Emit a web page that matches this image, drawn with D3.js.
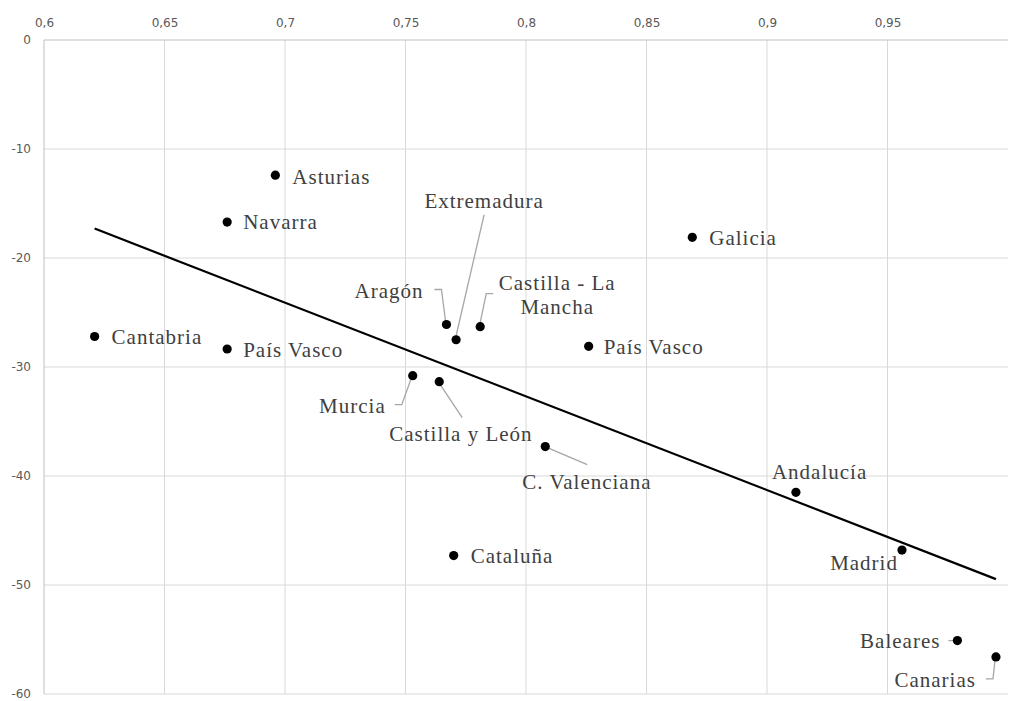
<html>
  <head>
    <meta charset="UTF-8">
    <title>Dispersión por comunidades</title>
    <style type="text/css">
      body { margin: 0; background-color: #fff; }
      .grid line { stroke: #d9d9d9; stroke-width: 1px; }
      .axisLine { stroke: #bfbfbf; stroke-width: 1px; }
      .tick text { fill: #595959; font-family: "DejaVu Sans", sans-serif; font-size: 12px; }
      .label { fill: #404040; font-family: "Liberation Serif", serif; font-size: 21px; letter-spacing: 1px; }
      .leader { stroke: #a6a6a6; stroke-width: 1.3px; fill: none; }
    </style>
    <script src="https://cdn.jsdelivr.net/npm/d3@7"></script>
  </head>
  <body>
    <div id="chart"></div>
    <script type="text/javascript">

      // data
      var regions = ["Asturias", "Navarra", "Galicia", "Cantabria", "País Vasco", "Aragón", "Extremadura",
                     "Castilla - La Mancha", "País Vasco", "Murcia", "Castilla y León", "C. Valenciana",
                     "Cataluña", "Andalucía", "Madrid", "Baleares", "Canarias"];
      var xValues = [0.696, 0.676, 0.869, 0.621, 0.676, 0.767, 0.771, 0.781, 0.826, 0.753, 0.764, 0.808,
                     0.770, 0.912, 0.956, 0.979, 0.995];
      var yValues = [-12.4, -16.7, -18.1, -27.2, -28.35, -26.1, -27.5, -26.3, -28.1, -30.8, -31.35, -37.3,
                     -47.3, -41.5, -46.8, -55.1, -56.6];
      var xTicks = [0.6, 0.65, 0.7, 0.75, 0.8, 0.85, 0.9, 0.95];
      var yTicks = [0, -10, -20, -30, -40, -50, -60];

      // label layout (pixel offsets from each dot, and leader lines)
      var labelLayout = [
        { dx: 17, dy: 1, anchor: "start" },
        { dx: 16, dy: 0, anchor: "start" },
        { dx: 17, dy: 0, anchor: "start" },
        { dx: 17, dy: 0, anchor: "start" },
        { dx: 16, dy: 1, anchor: "start" },
        { dx: -23, dy: -34, anchor: "end", leader: [[-12, -35], [-5, -35], [-1, -4]] },
        { dx: 28, dy: -139, anchor: "middle", leader: [[28, -125], [0, -4]] },
        { dx: 77, dy: -44, anchor: "middle", lines: ["Castilla - La", "Mancha"], leader: [[13, -33], [6, -33], [0, -4]] },
        { dx: 15, dy: 0, anchor: "start" },
        { dx: -27, dy: 30, anchor: "end", leader: [[-18, 29], [-11, 29], [-2, 4]] },
        { dx: -50, dy: 52, anchor: "start", leader: [[1, 3], [23, 36]] },
        { dx: -23, dy: 35, anchor: "start", leader: [[2, 1], [42, 18]] },
        { dx: 17, dy: 0, anchor: "start" },
        { dx: -24, dy: -21, anchor: "start" },
        { dx: -4, dy: 13, anchor: "end" },
        { dx: -17, dy: 0, anchor: "end", leader: [[-9, 0], [-3, 0]] },
        { dx: -20, dy: 23, anchor: "end", leader: [[-10, 22], [-3, 22], [-1, 4]] }
      ];

      var width = 1009, height = 701;
      var marginLeft = 44, marginTop = 40;

      var svg = d3.select("#chart").append("svg")
        .attr("width", width).attr("height", height);

      var xScale = d3.scaleLinear().domain([0.6, 1.0]).range([marginLeft, 1008]);
      var yScale = d3.scaleLinear().domain([0, -60]).range([marginTop, 694]);

      // grid
      var grid = svg.append("g").attr("class", "grid");
      grid.selectAll(".v").data(xTicks.slice(1)).enter().append("line")
        .attr("x1", function(d) { return xScale(d); }).attr("x2", function(d) { return xScale(d); })
        .attr("y1", yScale(0)).attr("y2", yScale(-60));
      grid.selectAll(".h").data(yTicks.slice(1)).enter().append("line")
        .attr("x1", xScale(0.6)).attr("x2", xScale(1.0))
        .attr("y1", function(d) { return yScale(d); }).attr("y2", function(d) { return yScale(d); });

      // axes on top and left
      var fmt = function(d) { return String(d).replace(".", ","); };
      var xAxisG = svg.append("g").attr("transform", "translate(0," + marginTop + ")")
        .call(d3.axisTop(xScale).tickValues(xTicks).tickFormat(fmt).tickSize(0).tickPadding(13));
      var yAxisG = svg.append("g").attr("transform", "translate(" + marginLeft + ",0)")
        .call(d3.axisLeft(yScale).tickValues(yTicks).tickFormat(fmt).tickSize(0).tickPadding(13));
      xAxisG.select(".domain").remove();
      yAxisG.select(".domain").remove();
      svg.append("line").attr("class", "axisLine")
        .attr("x1", xScale(0.6)).attr("x2", xScale(1.0)).attr("y1", yScale(0)).attr("y2", yScale(0));
      svg.append("line").attr("class", "axisLine")
        .attr("x1", xScale(0.6)).attr("x2", xScale(0.6)).attr("y1", yScale(0)).attr("y2", yScale(-60));

      // linear trend (least squares)
      var mx = d3.mean(xValues), my = d3.mean(yValues);
      var sxy = d3.sum(xValues, function(x, i) { return (x - mx) * (yValues[i] - my); });
      var sxx = d3.sum(xValues, function(x) { return (x - mx) * (x - mx); });
      var slope = sxy / sxx, icpt = my - slope * mx;
      var ext = d3.extent(xValues);
      svg.append("line")
        .attr("x1", xScale(ext[0])).attr("y1", yScale(icpt + slope * ext[0]))
        .attr("x2", xScale(ext[1])).attr("y2", yScale(icpt + slope * ext[1]))
        .attr("stroke", "#000").attr("stroke-width", 2.2);

      var pts = regions.map(function(r, i) { return { name: r, x: xValues[i], y: yValues[i], lay: labelLayout[i] }; });

      // leader lines
      svg.selectAll(".leader").data(pts.filter(function(d) { return d.lay.leader; })).enter()
        .append("path").attr("class", "leader")
        .attr("d", function(d) {
          var cx = xScale(d.x), cy = yScale(d.y);
          return d3.line()(d.lay.leader.map(function(p) { return [cx + p[0], cy + p[1]]; }));
        });

      // dots
      svg.selectAll(".dot").data(pts).enter().append("circle")
        .attr("class", "dot")
        .attr("cx", function(d) { return xScale(d.x); })
        .attr("cy", function(d) { return yScale(d.y); })
        .attr("r", 4.6).attr("fill", "#000");

      // labels
      svg.selectAll(".label").data(pts).enter().append("text")
        .attr("class", "label")
        .attr("x", function(d) { return xScale(d.x) + d.lay.dx; })
        .attr("y", function(d) { return yScale(d.y) + d.lay.dy; })
        .attr("text-anchor", function(d) { return d.lay.anchor; })
        .each(function(d) {
          var t = d3.select(this);
          var lines = d.lay.lines || [d.name];
          lines.forEach(function(l, k) {
            t.append("tspan").attr("x", xScale(d.x) + d.lay.dx)
              .attr("dy", k == 0 ? "0.35em" : "24px").text(l);
          });
        });

    </script>
  </body>
</html>
